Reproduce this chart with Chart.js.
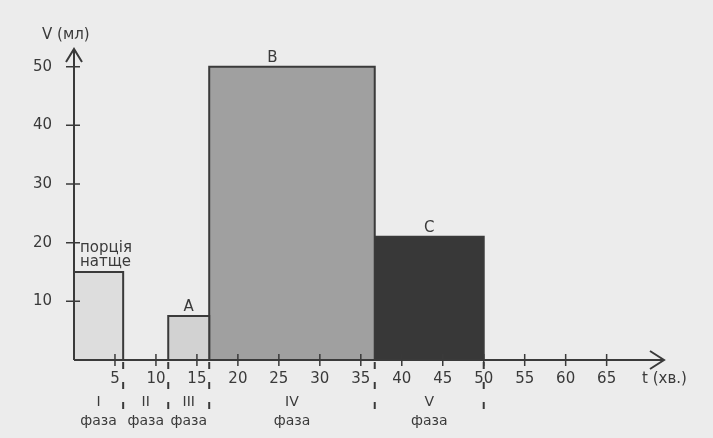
<!DOCTYPE html>
<html>
<head>
<meta charset="utf-8">
<script src="https://cdn.jsdelivr.net/npm/chart.js@4/dist/chart.umd.min.js"></script>
<style>
  body { margin: 0; background: #ececec; }
  #wrap { width: 713px; height: 438px; }
</style>
</head>
<body>
<div id="wrap"><canvas id="myChart" width="713" height="438"></canvas></div>
<script>
// time ticks (хв.) and volume ticks (мл)
var xTicks = [5, 10, 15, 20, 25, 30, 35, 40, 45, 50, 55, 60, 65];
var yTicks = [10, 20, 30, 40, 50];

// portions of juice: start / end time and volume
var barNames = ["порція натще", "A", "B", "C"];
var barStart = [0, 11.5, 16.5, 36.7];
var barEnd = [6, 16.5, 36.7, 50];
var barVolume = [15, 7.5, 50, 21];

// phases of secretion
var phaseBounds = [0, 6, 11.5, 16.5, 36.7, 50];
var phaseNames = ["I", "II", "III", "IV", "V"];

var fills = ["#dddddd", "#d2d2d2", "#a0a0a0", "#383838"];
var ink = "#3a3a3a";
var font = "DejaVu Sans";

var datasets = [];
for (var i = 0; i < barNames.length; i++) {
  datasets.push({
    label: barNames[i],
    data: [
      {x: barStart[i], y: 0},
      {x: barStart[i], y: barVolume[i]},
      {x: barEnd[i], y: barVolume[i]},
      {x: barEnd[i], y: 0}
    ],
    showLine: true,
    fill: "origin",
    backgroundColor: fills[i],
    borderColor: ink,
    borderWidth: 2,
    pointRadius: 0,
    tension: 0
  });
}

var decor = {
  id: "decor",
  afterDraw: function(chart) {
    var ctx = chart.ctx;
    var xs = chart.scales.x, ys = chart.scales.y;
    var x0 = xs.getPixelForValue(0), y0 = ys.getPixelForValue(0);
    var xEnd = xs.right, yTop = ys.top - 3;
    ctx.save();
    ctx.strokeStyle = ink;
    ctx.fillStyle = ink;
    ctx.lineWidth = 2;

    // axes
    ctx.beginPath();
    ctx.moveTo(x0, y0); ctx.lineTo(x0, yTop);
    ctx.moveTo(x0, y0); ctx.lineTo(xEnd, y0);
    ctx.stroke();
    // arrows
    ctx.beginPath();
    ctx.moveTo(x0 - 8, yTop + 13); ctx.lineTo(x0, yTop); ctx.lineTo(x0 + 8, yTop + 13);
    ctx.moveTo(xEnd - 14, y0 - 9); ctx.lineTo(xEnd, y0); ctx.lineTo(xEnd - 14, y0 + 9);
    ctx.stroke();

    // tick marks crossing the axes
    ctx.lineWidth = 1.5;
    ctx.beginPath();
    yTicks.forEach(function(v) {
      var y = ys.getPixelForValue(v);
      ctx.moveTo(x0 - 8, y); ctx.lineTo(x0 + 6, y);
    });
    xTicks.forEach(function(v) {
      var x = xs.getPixelForValue(v);
      ctx.moveTo(x, y0 - 6); ctx.lineTo(x, y0 + 6);
    });
    ctx.stroke();

    // phase separators (dashed)
    ctx.setLineDash([7, 13]);
    ctx.lineWidth = 2;
    ctx.beginPath();
    phaseBounds.slice(1).forEach(function(v) {
      var x = xs.getPixelForValue(v);
      ctx.moveTo(x, y0 + 2); ctx.lineTo(x, y0 + 60);
    });
    ctx.stroke();
    ctx.setLineDash([]);

    // phase labels
    ctx.font = "14px '" + font + "'";
    ctx.textAlign = "center";
    ctx.textBaseline = "middle";
    for (var i = 0; i < phaseNames.length; i++) {
      var c = xs.getPixelForValue((phaseBounds[i] + phaseBounds[i + 1]) / 2);
      ctx.fillText(phaseNames[i], c, y0 + 42);
      ctx.fillText("фаза", c, y0 + 61);
    }

    // bar labels
    ctx.font = "15px '" + font + "'";
    ctx.textBaseline = "bottom";
    for (var j = 0; j < barNames.length; j++) {
      var top = ys.getPixelForValue(barVolume[j]);
      if (j === 0) {
        var words = barNames[j].split(" ");
        ctx.textAlign = "left";
        ctx.fillText(words[0], xs.getPixelForValue(barStart[j]) + 6, top - 16);
        ctx.fillText(words[1], xs.getPixelForValue(barStart[j]) + 6, top - 2);
      } else {
        ctx.textAlign = "center";
        var mid = (barStart[j] + barEnd[j]) / 2;
        if (barNames[j] === "B") mid -= 2.4;
        ctx.fillText(barNames[j], xs.getPixelForValue(mid), top - 1);
      }
    }

    // axis titles
    ctx.font = "15px '" + font + "'";
    ctx.textAlign = "left";
    ctx.textBaseline = "middle";
    ctx.fillText("V (мл)", 42, 35);
    ctx.fillText("t (хв.)", 642, y0 + 19);
    ctx.restore();
  }
};

new Chart("myChart", {
  type: "scatter",
  data: {datasets: datasets},
  options: {
    responsive: false,
    animation: false,
    layout: {padding: {left: 0, right: 49, top: 52, bottom: 0}},
    plugins: {legend: {display: false}, tooltip: {enabled: false}},
    scales: {
      x: {
        type: "linear", min: 0, max: 72,
        grid: {display: false, drawTicks: false},
        border: {display: false},
        afterBuildTicks: function(s) { s.ticks = xTicks.map(function(v) { return {value: v}; }); },
        afterFit: function(s) { s.height = 78; },
        ticks: {padding: 10, color: ink, font: {family: font, size: 15}, maxRotation: 0, autoSkip: false}
      },
      y: {
        type: "linear", min: 0, max: 52.5,
        grid: {display: false, drawTicks: false},
        border: {display: false},
        afterBuildTicks: function(s) { s.ticks = yTicks.map(function(v) { return {value: v}; }); },
        afterFit: function(s) { s.width = 74; },
        ticks: {padding: 22, color: ink, font: {family: font, size: 15}}
      }
    }
  },
  plugins: [decor]
});
</script>
</body>
</html>
